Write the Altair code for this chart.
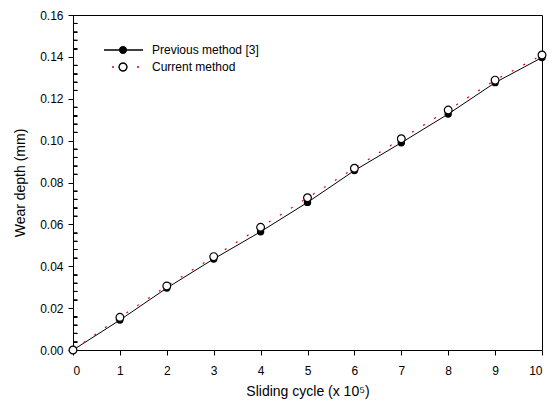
import altair as alt
import pandas as pd

# ---- data ----
cycles = [0, 1, 2, 3, 4, 5, 6, 7, 8, 9, 10]
previous_method = [0.0, 0.0143, 0.0296, 0.0435, 0.0565, 0.0705, 0.0857, 0.0990, 0.1127, 0.1277, 0.1397]
current_method = [0.0, 0.0156, 0.0306, 0.0446, 0.0586, 0.0727, 0.0868, 0.1009, 0.1146, 0.1289, 0.1409]

x_ticks = [0, 1, 2, 3, 4, 5, 6, 7, 8, 9, 10]
y_major = [0.00, 0.02, 0.04, 0.06, 0.08, 0.10, 0.12, 0.14, 0.16]
y_minor = [0.004, 0.008, 0.012, 0.016, 0.024, 0.028, 0.032, 0.036,
           0.044, 0.048, 0.052, 0.056, 0.064, 0.068, 0.072, 0.076,
           0.084, 0.088, 0.092, 0.096, 0.104, 0.108, 0.112, 0.116,
           0.124, 0.128, 0.132, 0.136, 0.144, 0.148, 0.152, 0.156]
legend_labels = ["Previous method [3]", "Current method"]

df = pd.DataFrame({"cycle": cycles, "prev": previous_method, "curr": current_method})
minor_df = pd.DataFrame({"v": y_minor})

FONT = "Arial, Liberation Sans, sans-serif"
PLOT_W = 469

xs = alt.Scale(domain=[0, 10], nice=False)
ys = alt.Scale(domain=[0, 0.16], nice=False)

common = dict(grid=False, labelFont=FONT, titleFont=FONT, labelFontSize=12, titleFontSize=14,
              titleFontWeight="normal", labelColor="black", titleColor="black",
              domainColor="black", tickColor="black", tickSize=5, labelOverlap=False)

x_axis = alt.Axis(values=x_ticks, title="Sliding cycle (x 10\u2075)",
                  labelPadding=10, titlePadding=8, **common)
y_axis = alt.Axis(values=y_major, format=".2f", title="Wear depth (mm)", orient="left",
                  labelPadding=5, titlePadding=12, **common)
# minor ticks: a label-less axis moved onto the left edge, ticks pointing inward
minor_axis = alt.Axis(orient="right", offset=-PLOT_W, values=y_minor, labels=False,
                      domain=False, grid=False, ticks=True, tickSize=4, title=None,
                      tickColor="black", tickWidth=1)

base = alt.Chart(df)

line_prev = base.mark_line(color="black", strokeWidth=1).encode(
    x=alt.X("cycle:Q", scale=xs, axis=x_axis),
    y=alt.Y("prev:Q", scale=ys, axis=y_axis),
)
line_curr = base.mark_line(color="#e00000", strokeWidth=1.2, strokeDash=[2, 11]).encode(
    x=alt.X("cycle:Q", scale=xs),
    y=alt.Y("curr:Q", scale=ys, axis=y_axis),
)
pts_prev = base.mark_point(filled=True, color="black", size=55, opacity=1).encode(
    x=alt.X("cycle:Q", scale=xs),
    y=alt.Y("prev:Q", scale=ys, axis=y_axis),
)
pts_curr = base.mark_point(filled=True, fill="white", stroke="black", strokeWidth=1.2,
                           size=60, opacity=1).encode(
    x=alt.X("cycle:Q", scale=xs),
    y=alt.Y("curr:Q", scale=ys, axis=y_axis),
)
minor_ticks = alt.Chart(minor_df).mark_rule(color="black", strokeWidth=1).encode(
    x=alt.value(0.5), x2=alt.value(4.5),
    y=alt.Y("v:Q", scale=ys, axis=minor_axis),
)

# ---- manual legend (pixel positions inside the plot area) ----
leg = alt.Chart(pd.DataFrame({"label": legend_labels}))
leg_line1 = leg.mark_rule(color="black", strokeWidth=1).encode(
    x=alt.value(31), x2=alt.value(70), y=alt.value(35))
leg_pt1 = leg.mark_point(filled=True, color="black", size=55, opacity=1).encode(
    x=alt.value(50), y=alt.value(35))
leg_line2 = leg.mark_rule(color="#e00000", strokeWidth=1.2, strokeDash=[2, 23]).encode(
    x=alt.value(39), x2=alt.value(70), y=alt.value(52))
leg_pt2 = leg.mark_point(filled=True, fill="white", stroke="black", strokeWidth=1.2,
                         size=60, opacity=1).encode(x=alt.value(50), y=alt.value(52))
leg_txt1 = alt.Chart(pd.DataFrame({"label": [legend_labels[0]]})).mark_text(
    align="left", baseline="middle", font=FONT, fontSize=12, color="black").encode(
    x=alt.value(79), y=alt.value(35), text="label:N")
leg_txt2 = alt.Chart(pd.DataFrame({"label": [legend_labels[1]]})).mark_text(
    align="left", baseline="middle", font=FONT, fontSize=12, color="black").encode(
    x=alt.value(79), y=alt.value(52), text="label:N")

data_layer = alt.layer(line_prev, line_curr, pts_prev, pts_curr)

chart = alt.layer(
    data_layer, minor_ticks,
    leg_line1, leg_pt1, leg_line2, leg_pt2, leg_txt1, leg_txt2,
).resolve_axis(
    y="independent",
).properties(
    width=PLOT_W, height=335,
    background="white",
    autosize=alt.AutoSizeParams(type="none"),
    padding={"left": 65, "top": 7, "right": 7, "bottom": 50},
).configure_view(
    stroke="black", strokeWidth=1,
).configure_axis(
    domainWidth=1, tickWidth=1,
)

chart.save("out.html", embed_options={"renderer": "svg", "actions": False})
